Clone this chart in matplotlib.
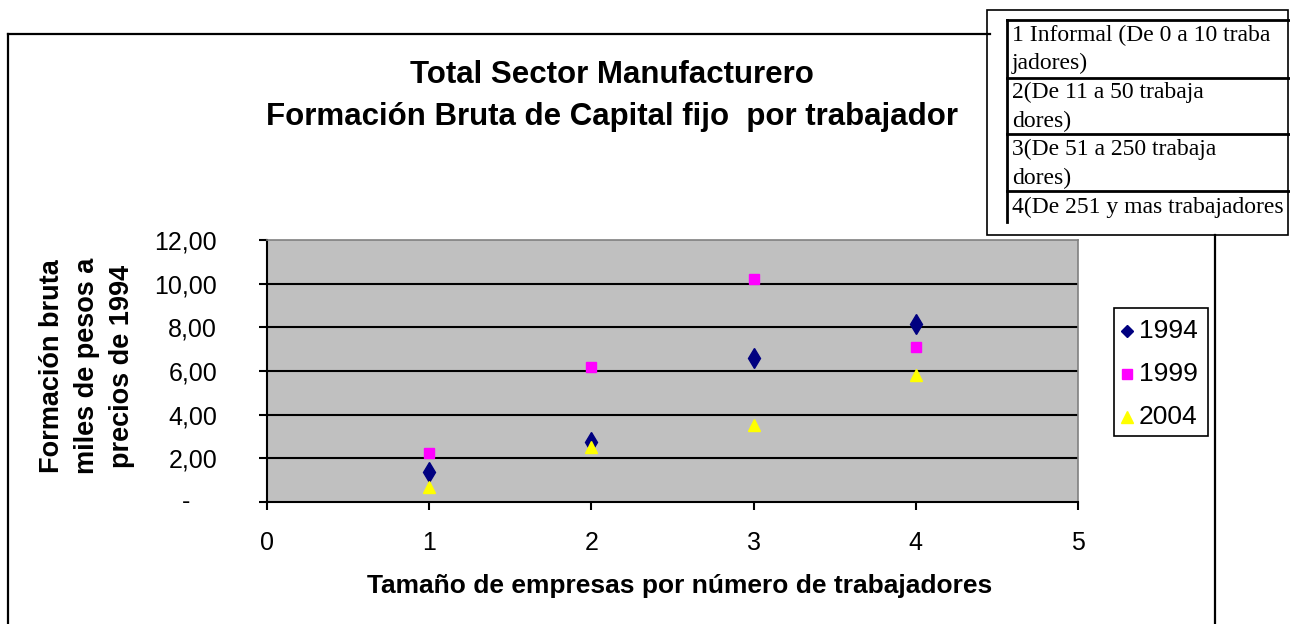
import matplotlib

matplotlib.use("Agg")
import matplotlib.pyplot as plt
from matplotlib.patches import Rectangle
from matplotlib.lines import Line2D
from matplotlib.transforms import blended_transform_factory

# data
sizes = [1, 2, 3, 4]
v1994 = [1.36, 2.76, 6.58, 8.14]
v1999 = [2.23, 6.17, 10.21, 7.09]
v2004 = [0.70, 2.53, 3.53, 5.82]
years = ["1994", "1999", "2004"]
yticks = [0, 2, 4, 6, 8, 10, 12]
xticks = [0, 1, 2, 3, 4, 5]
note_lines = [
    "1 Informal (De 0 a 10 traba", "jadores)",
    "2(De 11 a 50 trabaja", "dores)",
    "3(De 51 a 250 trabaja", "dores)",
    "4(De 251 y mas trabajadores",
]

W, H = 1290, 624
fig = plt.figure(figsize=(W / 100, H / 100), dpi=100)
fig.patch.set_facecolor("white")


def fx(px):
    return px / W


def fy(py):
    return 1 - py / H


sans = "Liberation Sans"
serif = "Liberation Serif"

# outer chart frame
fig.add_artist(Line2D([fx(8), fx(8)], [fy(34), fy(626)], color="black", lw=1.6))
fig.add_artist(Line2D([fx(8), fx(990)], [fy(34), fy(34)], color="black", lw=1.6))
fig.add_artist(Line2D([fx(1215), fx(1215)], [fy(235), fy(626)], color="black", lw=1.6))

ax = fig.add_axes([fx(267), fy(502), fx(1078) - fx(267), fy(240) - fy(502)])
ax.set_facecolor("#C0C0C0")
ax.set_xlim(0, 5)
ax.set_ylim(0, 12)
for y in yticks[1:-1]:
    ax.axhline(y, color="black", lw=1.5, zorder=1)

ax.plot(sizes, v1994, linestyle="none", marker="d", markersize=10, color="#000080", zorder=3)
ax.plot(sizes, v1999, linestyle="none", marker="s", markersize=7.5, color="#FF00FF", zorder=3)
ax.plot(sizes, v2004, linestyle="none", marker="^", markersize=9, color="#FFFF00", zorder=4)

ax.set_yticks(yticks)
ax.set_yticklabels([""] + [f"{v:.2f}".replace(".", ",") for v in yticks[1:]])
ax.set_xticks(xticks)
ax.set_xticklabels([str(v) for v in xticks])
ax.tick_params(direction="out", length=6, width=1.5, labelsize=18)
ax.tick_params(axis="y", pad=30)
ax.tick_params(axis="x", pad=15)
for lab in ax.get_xticklabels() + ax.get_yticklabels():
    lab.set_family(sans)
# zero label drawn as a dash, as in the accounting number format
ax.text(fx(186), 0, "-", transform=blended_transform_factory(fig.transFigure, ax.transData),
        ha="center", va="center", fontsize=18, family=sans)
for side in ("left", "bottom"):
    ax.spines[side].set_color("black")
    ax.spines[side].set_linewidth(1.5)
for side in ("top", "right"):
    ax.spines[side].set_color("#808080")
    ax.spines[side].set_linewidth(1.2)

# titles
fig.text(fx(612), fy(75), "Total Sector Manufacturero", ha="center", va="center",
         fontsize=22.5, fontweight="bold", family=sans)
fig.text(fx(612), fy(117), "Formación Bruta de Capital fijo  por trabajador", ha="center",
         va="center", fontsize=22.5, fontweight="bold", family=sans)
fig.text(fx(680), fy(586), "Tamaño de empresas por número de trabajadores", ha="center",
         va="center", fontsize=19, fontweight="bold", family=sans)
for xp, txt in [(52, "Formación bruta"), (87, "miles de pesos a"), (122, "precios de 1994")]:
    fig.text(fx(xp), fy(366), txt, ha="center", va="center", rotation=90,
             fontsize=19.5, fontweight="bold", family=sans)

# legend box
fig.add_artist(Rectangle((fx(1114), fy(436)), fx(1208) - fx(1114), fy(308) - fy(436),
                         facecolor="white", edgecolor="black", lw=1.2))
leg_styles = [("D", 6.5, "#000080"), ("s", 7, "#FF00FF"), ("^", 8, "#FFFF00")]
for i, (yr, (m, ms, c)) in enumerate(zip(years, leg_styles)):
    yy = fy(331 + i * 43)
    fig.add_artist(Line2D([fx(1127)], [yy], marker=m, markersize=ms, color=c, linestyle="none"))
    fig.text(fx(1139), yy, yr, ha="left", va="center", fontsize=19, family=sans)

# note table at top right
fig.add_artist(Rectangle((fx(987), fy(235)), fx(1288) - fx(987), fy(10) - fy(235),
                         facecolor="white", edgecolor="black", lw=1.2))
fig.add_artist(Line2D([fx(1007), fx(1007)], [fy(20), fy(222)], color="black", lw=2))
for yl in [20, 78, 134, 191]:
    fig.add_artist(Line2D([fx(1007), fx(1292)], [fy(yl), fy(yl)], color="black", lw=2))
for i, txt in enumerate(note_lines):
    fig.text(fx(1012), fy(35 + i * 28.7), txt, ha="left", va="center", fontsize=17,
             family=serif)

fig.savefig("out.png", dpi=100)
